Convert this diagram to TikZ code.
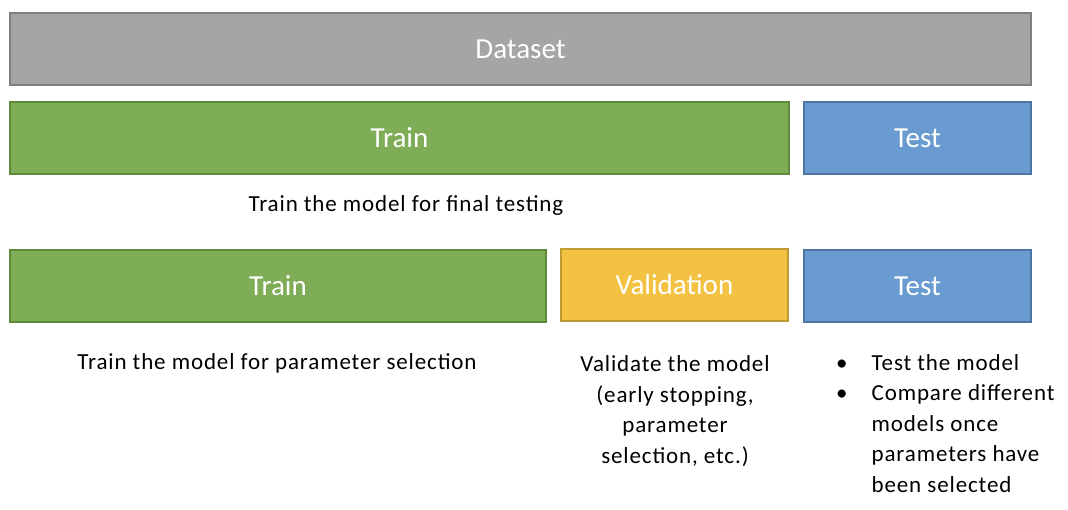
\documentclass[tikz,border=0pt]{standalone}
\usepackage{fontspec}
\setmainfont{Carlito}
\newfontfamily\notefont[LetterSpace=3.8]{Carlito}
\usetikzlibrary{positioning}

\definecolor{setgray}{HTML}{A5A5A5}
\definecolor{setgrayline}{HTML}{7F7F7F}
\definecolor{traingreen}{HTML}{7FAC56}
\definecolor{traingreenline}{HTML}{5E8A3C}
\definecolor{testblue}{HTML}{6A9BD0}
\definecolor{testblueline}{HTML}{4E75A2}
\definecolor{validyellow}{HTML}{F4C243}
\definecolor{validyellowline}{HTML}{BF9A35}

\tikzset{
	bar/.style={draw, line width=1.2pt, inner sep=0pt, minimum height=72pt,
		text=white, font=\fontsize{29}{32}\selectfont},
	note/.style={inner sep=0pt, align=center, font=\notefont\fontsize{23}{30.5}\selectfont}
}

\begin{document}
\begin{tikzpicture}[x=1pt,y=-1pt]
	\useasboundingbox (0,0) rectangle (1068,510);
	% the whole set
	\node[bar, fill=setgray, draw=setgrayline, minimum width=1021pt] (dataset) at (520.5,49) {Dataset};
	% split for final testing
	\node[bar, fill=traingreen, draw=traingreenline, minimum width=779pt] (trainA) at (399.5,138) {Train};
	\node[bar, fill=testblue, draw=testblueline, minimum width=227pt] (testA) at (917.5,138) {Test};
	\node[note] (trainAnote) at (406,205) {Train the model for final testing};
	% split with validation
	\node[bar, fill=traingreen, draw=traingreenline, minimum width=536pt] (trainB) at (278,286) {Train};
	\node[bar, fill=validyellow, draw=validyellowline, minimum width=227pt] (valid) at (674.5,285) {Validation};
	\node[bar, fill=testblue, draw=testblueline, minimum width=227pt] (testB) at (917.5,286) {Test};
	\node[note] (trainBnote) at (277,363) {Train the model for parameter selection};
	\node[note] (validnote) at (675,411) {Validate the model\\(early stopping,\\parameter\\selection, etc.)};
	\node[note, anchor=west, align=left] (testnote) at (836,425) {%
		\begin{tabular}{@{}l@{\hspace{24pt}}l@{}}
			\textbullet & Test the model\\
			\textbullet & Compare different\\
			& models once\\
			& parameters have\\
			& been selected
		\end{tabular}};
\end{tikzpicture}
\end{document}
